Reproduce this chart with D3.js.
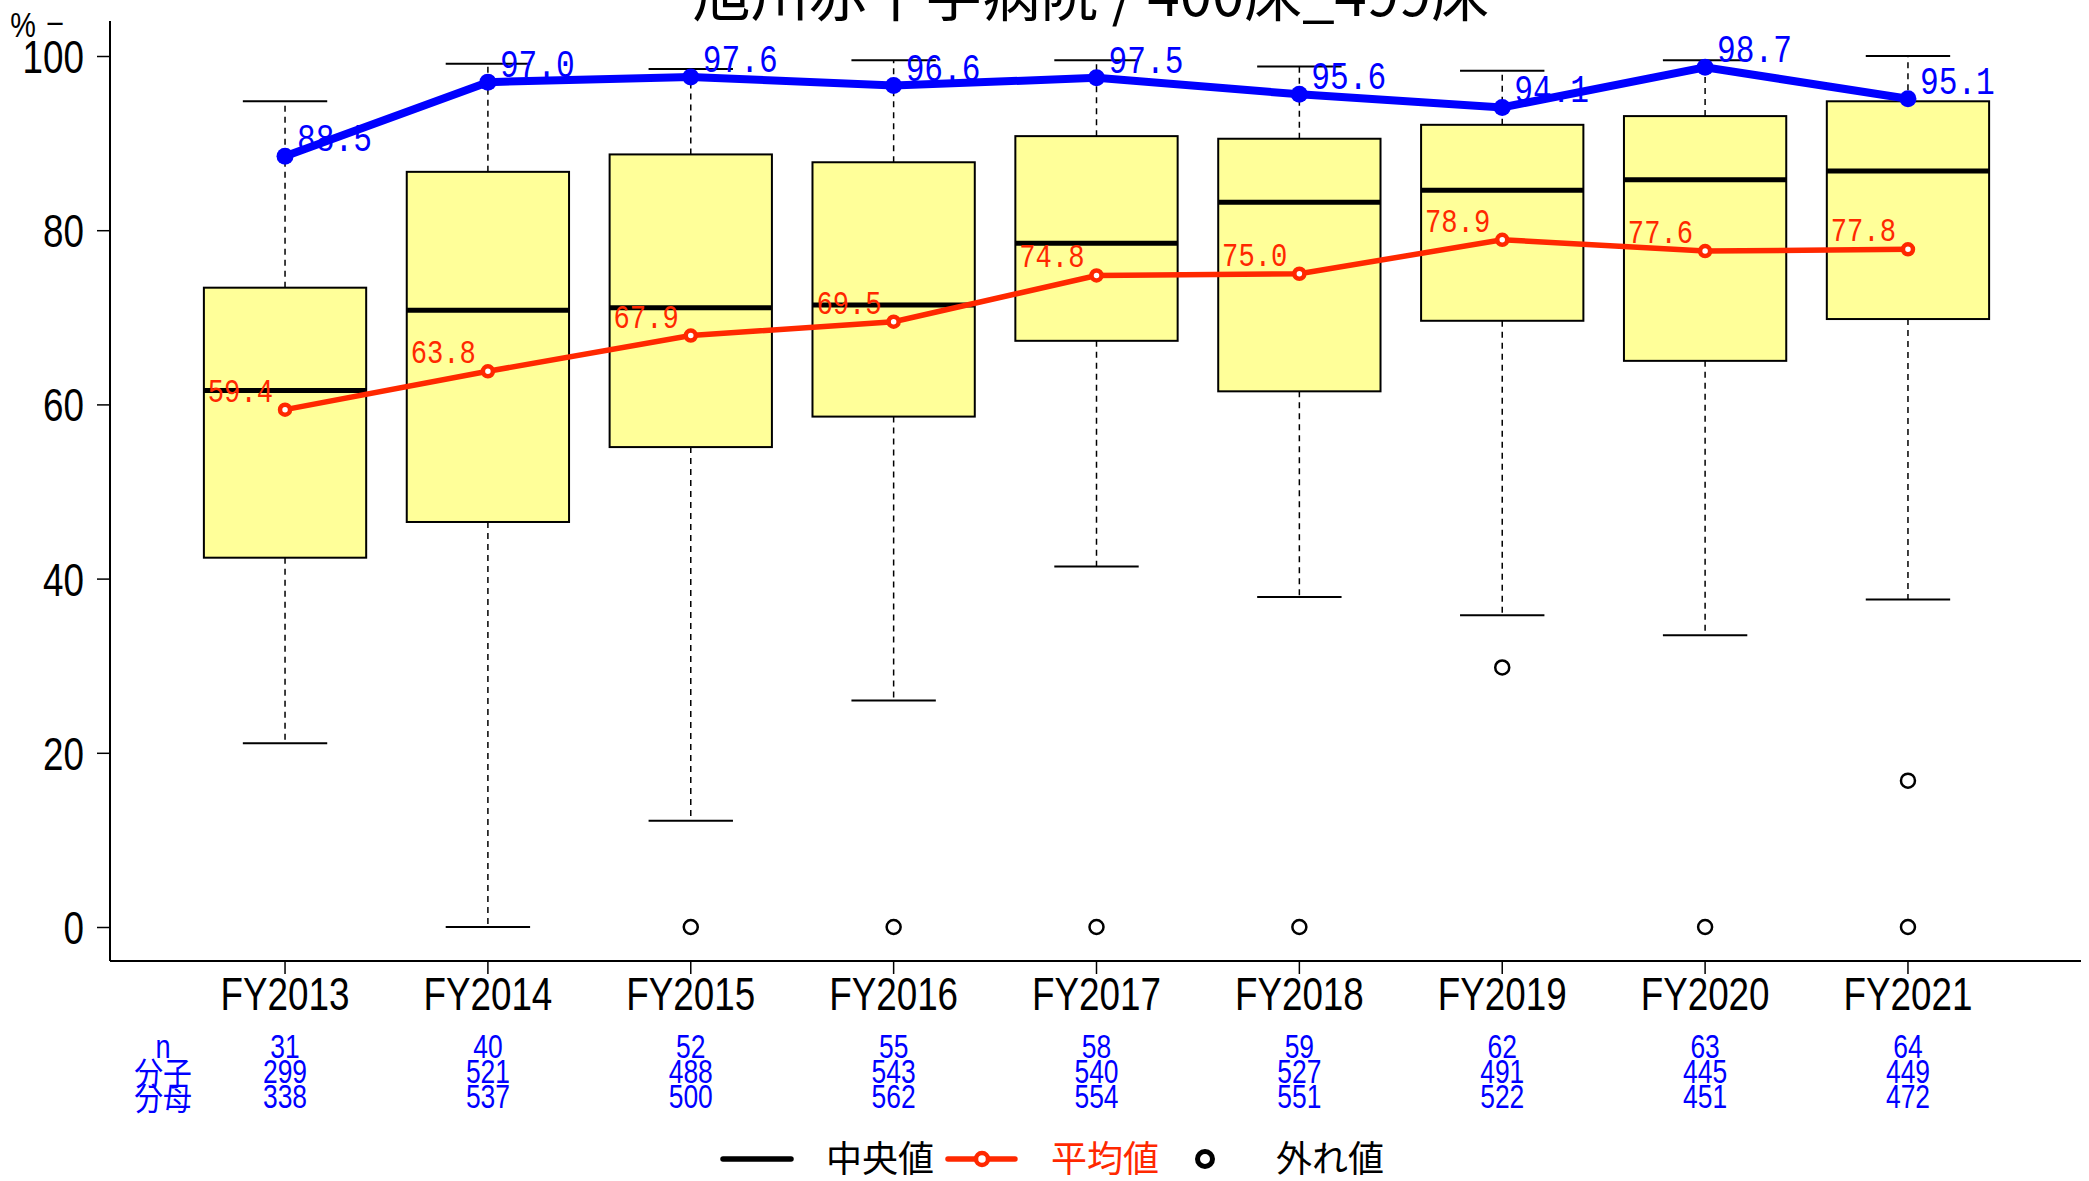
<!DOCTYPE html>
<html>
<head>
<meta charset="utf-8">
<script src="https://cdn.jsdelivr.net/npm/d3@7"></script>
<style>
  html, body { margin: 0; padding: 0; background: #fff; }
  svg { display: block; }
  .narrow { font-family: "Liberation Sans", Arial, sans-serif; }
  .cjk { font-family: "Noto Sans CJK JP", "Noto Sans", sans-serif; }
  .mono { font-family: "Liberation Mono", "DejaVu Sans Mono", monospace; }
</style>
</head>
<body>
<script>
const title = "旭川赤十字病院 / 400床_499床";
const categories = ["FY2013","FY2014","FY2015","FY2016","FY2017","FY2018","FY2019","FY2020","FY2021"];
const whiskerLow  = [21.1, 0.0, 12.2, 26.0, 41.4, 37.9, 35.8, 33.5, 37.6];
const q1          = [42.4, 46.5, 55.1, 58.6, 67.3, 61.5, 69.6, 65.0, 69.8];
const medians     = [61.6, 70.8, 71.1, 71.4, 78.5, 83.2, 84.6, 85.8, 86.8];
const q3          = [73.4, 86.7, 88.7, 87.8, 90.8, 90.5, 92.1, 93.1, 94.8];
const whiskerHigh = [94.8, 99.1, 98.5, 99.5, 99.5, 98.8, 98.3, 99.5, 100.0];
const outliers    = [[], [], [0], [0], [0], [0], [29.8], [0], [16.8, 0]];
const hospitalValues = [88.5, 97.0, 97.6, 96.6, 97.5, 95.6, 94.1, 98.7, 95.1];
const meanValues     = [59.4, 63.8, 67.9, 69.5, 74.8, 75.0, 78.9, 77.6, 77.8];
const nValues     = [31, 40, 52, 55, 58, 59, 62, 63, 64];
const numerValues = [299, 521, 488, 543, 540, 527, 491, 445, 449];
const denomValues = [338, 537, 500, 562, 554, 551, 522, 451, 472];
const yTicks = [0, 20, 40, 60, 80, 100];
const tableLabels = ["n", "分子", "分母"];
const legendLabels = ["中央値", "平均値", "外れ値"];

const W = 2089, H = 1181;
const BLUE = "#0000ff", RED = "#ff2800", BOXFILL = "#ffff99";
const SX = 0.8; // horizontal condensation for narrow text

const svg = d3.select("body").append("svg").attr("width", W).attr("height", H);

const x = d3.scaleBand().domain(categories).range([183.6, 2009.4]).paddingInner(0.2).paddingOuter(0.1);
const y = d3.scaleLinear().domain([0, 100]).range([927, 56]);
const cx = c => x(c) + x.bandwidth() / 2;
const bw = x.bandwidth();

function condText(parent, px, py, str, cls, size, fill, anchor, sx) {
  return parent.append("text").attr("class", cls)
    .attr("transform", `translate(${px},${py}) scale(${sx},1)`)
    .attr("x", 0).attr("y", 0).attr("text-anchor", anchor)
    .attr("font-size", size).attr("fill", fill).text(str);
}

const data = categories.map((c, i) => ({
  c, lo: whiskerLow[i], q1: q1[i], med: medians[i], q3: q3[i], hi: whiskerHigh[i],
  out: outliers[i], hosp: hospitalValues[i], mean: meanValues[i]
}));

// Frame (L-shaped)
const plotTop = 21, plotBottom = 961, plotLeft = 110, plotRight = 2081;
svg.append("line").attr("x1", plotLeft).attr("x2", plotLeft).attr("y1", plotTop).attr("y2", plotBottom)
  .attr("stroke", "#000").attr("stroke-width", 2);
svg.append("line").attr("x1", plotLeft).attr("x2", plotRight).attr("y1", plotBottom).attr("y2", plotBottom)
  .attr("stroke", "#000").attr("stroke-width", 2);

// Y axis
const yAxis = svg.append("g").attr("transform", `translate(${plotLeft},0)`)
  .call(d3.axisLeft(y).tickValues(yTicks).tickSize(13).tickPadding(13).tickFormat(d3.format("d")));
yAxis.select(".domain").remove();
yAxis.selectAll(".tick line").attr("stroke-width", 1.5);
yAxis.selectAll("text").attr("class", "narrow").attr("font-size", 46).attr("fill", "#000")
  .attr("x", -26 / SX).attr("dy", "0.36em").attr("transform", `scale(${SX},1)`);

// X axis
const xAxis = svg.append("g").attr("transform", `translate(0,${plotBottom})`)
  .call(d3.axisBottom(x).tickSize(13).tickPadding(3));
xAxis.select(".domain").remove();
xAxis.selectAll(".tick line").attr("stroke-width", 1.5);
xAxis.selectAll("text").attr("class", "narrow").attr("font-size", 46).attr("fill", "#000")
  .attr("dy", "0.71em").attr("transform", `scale(${SX},1)`);

// Y unit label
condText(svg, 23, 37, "%", "narrow", 36, "#000", "middle", SX);
condText(svg, 55, 32, "–", "narrow", 34, "#000", "middle", SX);

// Title
svg.append("text").attr("class", "cjk").attr("x", 1091).attr("y", 16).attr("text-anchor", "middle")
  .attr("font-size", 58).attr("fill", "#000").text(title);

// Boxes
const g = svg.append("g");
g.selectAll(".wh-up").data(data).join("line")
  .attr("x1", d => cx(d.c)).attr("x2", d => cx(d.c)).attr("y1", d => y(d.q3)).attr("y2", d => y(d.hi))
  .attr("stroke", "#000").attr("stroke-width", 1.5).attr("stroke-dasharray", "6,5");
g.selectAll(".wh-dn").data(data).join("line")
  .attr("x1", d => cx(d.c)).attr("x2", d => cx(d.c)).attr("y1", d => y(d.q1)).attr("y2", d => y(d.lo))
  .attr("stroke", "#000").attr("stroke-width", 1.5).attr("stroke-dasharray", "6,5");
g.selectAll(".cap-up").data(data).join("line")
  .attr("x1", d => cx(d.c) - bw * 0.26).attr("x2", d => cx(d.c) + bw * 0.26)
  .attr("y1", d => y(d.hi)).attr("y2", d => y(d.hi)).attr("stroke", "#000").attr("stroke-width", 2);
g.selectAll(".cap-dn").data(data).join("line")
  .attr("x1", d => cx(d.c) - bw * 0.26).attr("x2", d => cx(d.c) + bw * 0.26)
  .attr("y1", d => y(d.lo)).attr("y2", d => y(d.lo)).attr("stroke", "#000").attr("stroke-width", 2);
g.selectAll(".box").data(data).join("rect")
  .attr("x", d => x(d.c)).attr("width", bw)
  .attr("y", d => y(d.q3)).attr("height", d => y(d.q1) - y(d.q3))
  .attr("fill", BOXFILL).attr("stroke", "#000").attr("stroke-width", 2);
g.selectAll(".med").data(data).join("line")
  .attr("x1", d => x(d.c)).attr("x2", d => x(d.c) + bw)
  .attr("y1", d => y(d.med)).attr("y2", d => y(d.med)).attr("stroke", "#000").attr("stroke-width", 5);
const outPts = data.flatMap(d => d.out.map(v => ({ c: d.c, v })));
g.selectAll(".out").data(outPts).join("circle")
  .attr("cx", d => cx(d.c)).attr("cy", d => y(d.v)).attr("r", 7)
  .attr("fill", "none").attr("stroke", "#000").attr("stroke-width", 2.5);

// Mean labels
data.forEach(d => condText(g, cx(d.c) - 12, y(d.mean) - 8, d.mean.toFixed(1), "mono", 34, RED, "end", 0.8));
// Mean line
g.append("path").datum(data).attr("d", d3.line().x(d => cx(d.c)).y(d => y(d.mean)))
  .attr("fill", "none").attr("stroke", RED).attr("stroke-width", 5.5);
g.selectAll(".mean-pt").data(data).join("circle")
  .attr("cx", d => cx(d.c)).attr("cy", d => y(d.mean)).attr("r", 5)
  .attr("fill", "#fff").attr("stroke", RED).attr("stroke-width", 4.5);

// Hospital labels
data.forEach(d => condText(g, cx(d.c) + 12, y(d.hosp) - 5, d.hosp.toFixed(1), "mono", 39, BLUE, "start", 0.8));
// Hospital line
g.append("path").datum(data).attr("d", d3.line().x(d => cx(d.c)).y(d => y(d.hosp)))
  .attr("fill", "none").attr("stroke", BLUE).attr("stroke-width", 8);
g.selectAll(".hosp-pt").data(data).join("circle")
  .attr("cx", d => cx(d.c)).attr("cy", d => y(d.hosp)).attr("r", 8.5).attr("fill", BLUE);

// Bottom table
const rows = [nValues, numerValues, denomValues];
const rowY = [1058, 1083, 1108];
rows.forEach((vals, r) => {
  if (r === 0) condText(svg, 163, rowY[r], tableLabels[r], "narrow", 34, BLUE, "middle", SX);
  else condText(svg, 163, rowY[r] + 2, tableLabels[r], "cjk", 32, BLUE, "middle", 0.9);
  vals.forEach((v, i) => condText(svg, cx(categories[i]), rowY[r], v, "narrow", 33, BLUE, "middle", SX));
});

// Legend
const ly = 1159;
const lg = svg.append("g");
lg.append("line").attr("x1", 723).attr("x2", 791).attr("y1", ly).attr("y2", ly)
  .attr("stroke", "#000").attr("stroke-width", 5.5).attr("stroke-linecap", "round");
lg.append("text").attr("class", "cjk").attr("x", 826).attr("y", ly + 13).attr("font-size", 36).attr("fill", "#000").text(legendLabels[0]);
lg.append("line").attr("x1", 948).attr("x2", 1015).attr("y1", ly).attr("y2", ly)
  .attr("stroke", RED).attr("stroke-width", 5.5).attr("stroke-linecap", "round");
lg.append("circle").attr("cx", 982).attr("cy", ly).attr("r", 6).attr("fill", "#fff").attr("stroke", RED).attr("stroke-width", 4.5);
lg.append("text").attr("class", "cjk").attr("x", 1051).attr("y", ly + 13).attr("font-size", 36).attr("fill", RED).text(legendLabels[1]);
lg.append("circle").attr("cx", 1205).attr("cy", ly).attr("r", 7.5).attr("fill", "none").attr("stroke", "#000").attr("stroke-width", 5);
lg.append("text").attr("class", "cjk").attr("x", 1276).attr("y", ly + 13).attr("font-size", 36).attr("fill", "#000").text(legendLabels[2]);
</script>
</body>
</html>
